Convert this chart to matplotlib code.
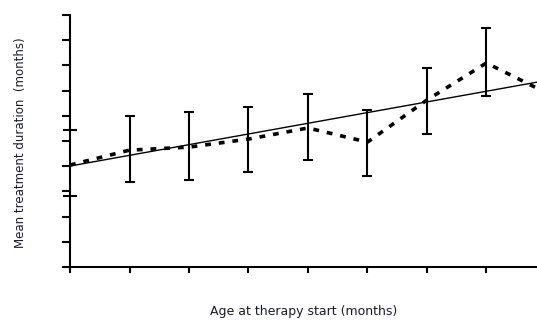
import matplotlib.pyplot as plt
import numpy as np

# values (arbitrary units, no tick labels shown)
ages = [0, 1, 2, 3, 4, 5, 6, 7, 7.85]
means = [4.05, 4.64, 4.76, 5.08, 5.52, 4.96, 6.63, 8.10, 7.10]

bar_ages = [1, 2, 3, 4, 5, 6, 7]
bar_means = [4.64, 4.76, 5.08, 5.52, 4.96, 6.63, 8.10]
bar_low = [3.37, 3.45, 3.77, 4.25, 3.61, 5.28, 6.79]
bar_high = [5.99, 6.15, 6.35, 6.87, 6.23, 7.90, 9.48]

trend_intercept = 4.01
trend_slope = 0.424

fig = plt.figure(figsize=(5.37, 3.21), dpi=100)
ax = fig.add_axes([0.1304, 0.168, 0.8696, 0.785])

ax.plot(ages, means, color='black', lw=2.6, dashes=(1.6, 2.2))

xs = np.array([0, 7.85])
ax.plot(xs, trend_intercept + trend_slope * xs, color='black', lw=1.0)

yerr = [np.array(bar_means) - np.array(bar_low), np.array(bar_high) - np.array(bar_means)]
ax.errorbar(bar_ages, bar_means, yerr=yerr, fmt='none', ecolor='black',
            elinewidth=1.5, capsize=3.6, capthick=1.5)

ax.set_xlim(0, 7.85)
ax.set_ylim(0, 10)
ax.set_xticks(range(0, 8))
ax.set_yticks(range(0, 11))
ax.set_yticks([2.82, 5.44], minor=True)
ax.set_xticklabels([])
ax.set_yticklabels([])
ax.tick_params(axis='x', direction='out', length=4, width=1.5)
ax.tick_params(axis='y', direction='out', length=6, width=1.5)
ax.tick_params(axis='y', which='minor', direction='inout', length=10, width=1.5)

for s in ['top', 'right']:
    ax.spines[s].set_visible(False)
for s in ['left', 'bottom']:
    ax.spines[s].set_linewidth(1.5)

fig.text(0.038, 0.555, 'Mean treatment duration  (months)', rotation=90,
         ha='center', va='center', fontsize=8.5, color='#1a1a2e')
fig.text(0.565, 0.03, 'Age at therapy start (months)', ha='center', va='center',
         fontsize=9, color='#1a1a2e')

fig.savefig('out.png', dpi=100)
